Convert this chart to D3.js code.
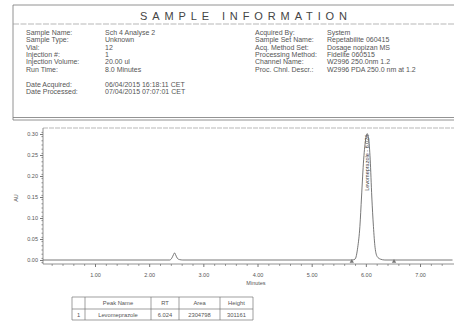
<!DOCTYPE html>
<html><head><meta charset="utf-8">
<script src="https://cdn.jsdelivr.net/npm/d3@7"></script>
<style>
html,body{margin:0;padding:0;background:#fff;}
svg{display:block;font-family:"Liberation Sans",Arial,sans-serif;}
</style></head>
<body>
<svg id="c" width="454" height="326"></svg>
<script>
// ---- data ----
const titleText = "SAMPLE INFORMATION";
const leftLabels = ["Sample Name:", "Sample Type:", "Vial:", "Injection #:", "Injection Volume:", "Run Time:"];
const leftValues = ["Sch 4 Analyse 2", "Unknown", "12", "1", "20.00 ul", "8.0 Minutes"];
const dateLabels = ["Date Acquired:", "Date Processed:"];
const dateValues = ["06/04/2015 16:18:11 CET", "07/04/2015 07:07:01 CET"];
const rightLabels = ["Acquired By:", "Sample Set Name:", "Acq. Method Set:", "Processing Method:", "Channel Name:", "Proc. Chnl. Descr.:"];
const rightValues = ["System", "Repetabilite 060415", "Dosage nopizan MS", "Fidelite 060515", "W2996 250.0nm 1.2", "W2996 PDA 250.0 nm at 1.2"];

const traceTime = [0.04, 2.38, 2.42, 2.45, 2.47, 2.49, 2.52, 2.56, 2.62, 5.74, 5.80, 5.85, 5.89, 5.92, 5.96, 6.00, 6.024, 6.05, 6.08, 6.11, 6.14, 6.17, 6.21, 6.27, 6.35, 7.6];
const traceAU   = [0, 0, 0.005, 0.013, 0.017, 0.012, 0.004, 0.001, 0, 0, 0.002, 0.03, 0.08, 0.15, 0.24, 0.29, 0.301, 0.29, 0.24, 0.15, 0.08, 0.03, 0.008, 0.002, 0, 0];
const peakNames = ["Levomeprazole"];
const peakRT = [6.024];
const peakHeightAU = [0.301];
const integrationMarks = [5.74, 6.52];
const yTicks = [0, 0.05, 0.10, 0.15, 0.20, 0.25, 0.30];
const xTicks = [1, 2, 3, 4, 5, 6, 7];
const tableHeader = ["", "Peak Name", "RT", "Area", "Height"];
const tableRow = ["1", "Levomeprazole", "6.024", "2304798", "301161"];

// ---- drawing ----
const svg = d3.select("#c");
const ink = "#555", lineC = "#777";

// header box
const hb = svg.append("g");
hb.append("line").attr("x1",13).attr("x2",454).attr("y1",5).attr("y2",5).attr("stroke",lineC).attr("stroke-width",0.8);
hb.append("line").attr("x1",13).attr("x2",13).attr("y1",5).attr("y2",120).attr("stroke",lineC).attr("stroke-width",0.8);
hb.append("line").attr("x1",13).attr("x2",454).attr("y1",24).attr("y2",24).attr("stroke","#999").attr("stroke-width",0.7).attr("stroke-dasharray","6,1.5");
hb.append("line").attr("x1",13).attr("x2",454).attr("y1",117.5).attr("y2",117.5).attr("stroke",lineC).attr("stroke-width",0.8);
hb.append("line").attr("x1",13).attr("x2",454).attr("y1",120).attr("y2",120).attr("stroke",lineC).attr("stroke-width",0.8);
hb.append("text").attr("x",140).attr("y",20).attr("font-size",11).attr("fill","#444")
  .attr("textLength",207).attr("lengthAdjust","spacing").text(titleText);

const fs = 7;
leftLabels.forEach((t,i)=>{
  hb.append("text").attr("x",26).attr("y",35+i*7.3).attr("font-size",fs).attr("fill",ink).text(t);
  hb.append("text").attr("x",105).attr("y",35+i*7.3).attr("font-size",fs).attr("fill",ink).text(leftValues[i]);
});
dateLabels.forEach((t,i)=>{
  hb.append("text").attr("x",26).attr("y",87+i*7.3).attr("font-size",fs).attr("fill",ink).text(t);
  hb.append("text").attr("x",105).attr("y",87+i*7.3).attr("font-size",fs).attr("fill",ink).text(dateValues[i]);
});
rightLabels.forEach((t,i)=>{
  hb.append("text").attr("x",255).attr("y",35+i*7.3).attr("font-size",fs).attr("fill",ink).text(t);
  hb.append("text").attr("x",327).attr("y",35+i*7.3).attr("font-size",fs).attr("fill",ink).text(rightValues[i]);
});

// chart
const x = d3.scaleLinear().domain([0.04, 7.6]).range([43, 43 + 7.56*54.17]);
const y = d3.scaleLinear().domain([0, 0.30]).range([260, 134]);
const yBottom = 264, yTop = 128;

const g = svg.append("g");
g.append("line").attr("x1",43).attr("x2",454).attr("y1",yTop).attr("y2",yTop).attr("stroke","#999").attr("stroke-width",0.7).attr("stroke-dasharray","5,1");
g.append("line").attr("x1",43).attr("x2",43).attr("y1",yTop).attr("y2",yBottom).attr("stroke",lineC).attr("stroke-width",0.8);
g.append("line").attr("x1",43).attr("x2",454).attr("y1",yBottom).attr("y2",yBottom).attr("stroke",lineC).attr("stroke-width",0.8);

// y axis
const yAx = g.append("g").attr("transform","translate(43,0)")
  .call(d3.axisLeft(y).tickValues(yTicks).tickFormat(d3.format(".2f")).tickSize(3).tickPadding(2));
yAx.select(".domain").remove();
yAx.selectAll("line").attr("stroke",lineC);
yAx.selectAll("text").attr("font-size",5.5).attr("fill",ink).attr("font-family","Liberation Sans, Arial, sans-serif");
const yMinor = g.append("g").attr("transform","translate(43,0)")
  .call(d3.axisLeft(y).tickValues(d3.range(-0.005,0.311,0.01).filter(v=>y(v)>=yTop&&y(v)<=yBottom)).tickFormat("").tickSize(1.5));
yMinor.select(".domain").remove();
yMinor.selectAll("line").attr("stroke","#888");

// x axis
const xAx = g.append("g").attr("transform",`translate(0,${yBottom})`)
  .call(d3.axisBottom(x).tickValues(xTicks).tickFormat(d3.format(".2f")).tickSize(3).tickPadding(6));
xAx.select(".domain").remove();
xAx.selectAll("line").attr("stroke",lineC);
xAx.selectAll("text").attr("font-size",5.5).attr("fill",ink).attr("font-family","Liberation Sans, Arial, sans-serif");
const xMinor = g.append("g").attr("transform",`translate(0,${yBottom})`)
  .call(d3.axisBottom(x).tickValues(d3.range(0.2,7.6,0.2).filter(v=>Math.abs(v-Math.round(v))>0.05)).tickFormat("").tickSize(1.8));
xMinor.select(".domain").remove();
xMinor.selectAll("line").attr("stroke","#888");

// axis titles
g.append("text").attr("transform","translate(18,198) rotate(-90)").attr("text-anchor","middle")
  .attr("font-size",5.5).attr("fill",ink).text("AU");
g.append("text").attr("x",256).attr("y",285).attr("text-anchor","middle")
  .attr("font-size",5.5).attr("fill",ink).text("Minutes");

// trace
const pts = traceTime.map((t,i)=>[t, traceAU[i]]);
g.append("path").datum(pts)
  .attr("d", d3.line().x(d=>x(d[0])).y(d=>y(d[1])).curve(d3.curveMonotoneX))
  .attr("fill","none").attr("stroke","#555").attr("stroke-width",0.8);

// integration marks
integrationMarks.forEach(t=>{
  g.append("path").attr("d", d3.symbol(d3.symbolTriangle, 8)())
    .attr("transform",`translate(${x(t)},${y(0)+1.5})`).attr("fill","#777");
});

// peak label
peakNames.forEach((n,i)=>{
  g.append("text").attr("transform",`translate(${x(peakRT[i])+2},${y(peakHeightAU[i])+1}) rotate(-90)`)
    .attr("text-anchor","end").attr("font-size",5.5).attr("fill","#444")
    .text(`${n} - ${peakRT[i].toFixed(3)}`);
});

// table
const colX = [72, 85, 151, 179, 220, 253];
const rowY = [297, 309, 320];
const tb = svg.append("g");
rowY.forEach(yy=>tb.append("line").attr("x1",colX[0]).attr("x2",colX[5]).attr("y1",yy).attr("y2",yy).attr("stroke",lineC).attr("stroke-width",0.7));
colX.forEach(xx=>tb.append("line").attr("x1",xx).attr("x2",xx).attr("y1",rowY[0]).attr("y2",rowY[2]).attr("stroke",lineC).attr("stroke-width",0.7));
[tableHeader, tableRow].forEach((row,r)=>{
  row.forEach((t,c)=>{
    tb.append("text").attr("x",(colX[c]+colX[c+1])/2).attr("y",rowY[r]+8).attr("text-anchor","middle")
      .attr("font-size",5.8).attr("fill",ink).text(t);
  });
});
</script>
</body></html>
